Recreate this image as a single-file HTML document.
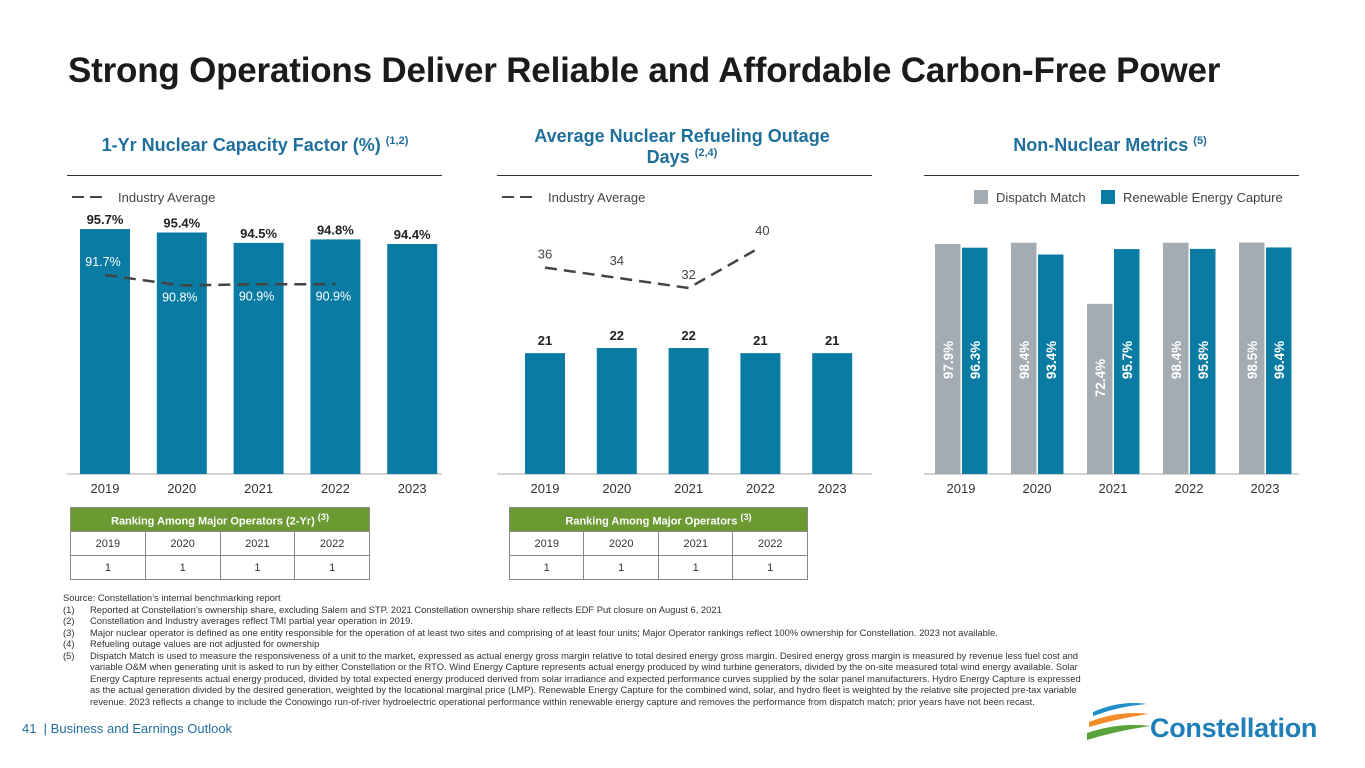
<!DOCTYPE html>
<html><head><meta charset="utf-8"><style>
body{margin:0;width:1365px;height:768px;background:#fff;font-family:"Liberation Sans",sans-serif;position:relative;overflow:hidden;color:#222}
.abs{position:absolute}
h1{position:absolute;left:68px;top:51px;margin:0;font-size:35px;font-weight:bold;color:#1b1b1b;letter-spacing:-0.2px;white-space:nowrap}
.sh{position:absolute;color:#1f6f9d;font-weight:bold;font-size:18px;text-align:center;line-height:21px}
.sh sup{font-size:11px;line-height:0}
.rule{position:absolute;height:1px;background:#333;top:175px}
table{position:absolute;border-collapse:collapse;font-size:11px;text-align:center;color:#333}
td,th{border:1px solid #888;height:23px;padding:0}
th{background:#6b9a32;color:#fff;font-weight:bold}
.fn{position:absolute;left:63px;top:592px;font-size:9.4px;line-height:11.5px;color:#333;width:1030px}
.fn .r{display:flex}
.fn .r span:first-child{width:27px;flex:none}
</style></head><body>
<h1>Strong Operations Deliver Reliable and Affordable Carbon-Free Power</h1>
<div class="sh" style="left:60px;top:135px;width:390px;white-space:nowrap">1-Yr Nuclear Capacity Factor (%) <sup>(1,2)</sup></div>
<div class="sh" style="left:517px;top:126px;width:330px">Average Nuclear Refueling Outage Days <sup>(2,4)</sup></div>
<div class="sh" style="left:960px;top:135px;width:300px;white-space:nowrap">Non-Nuclear Metrics <sup>(5)</sup></div>
<div class="rule" style="left:67px;width:375px"></div>
<div class="rule" style="left:497px;width:375px"></div>
<div class="rule" style="left:924px;width:375px"></div>
<svg class="abs" style="left:0;top:0" width="1365" height="590" id="svg"></svg>
<table style="left:70px;top:507px;width:300px">
<tr><th colspan="4">Ranking Among Major Operators (2-Yr) <sup>(3)</sup></th></tr>
<tr><td>2019</td><td>2020</td><td>2021</td><td>2022</td></tr>
<tr><td>1</td><td>1</td><td>1</td><td>1</td></tr></table>
<table style="left:509px;top:507px;width:299px">
<tr><th colspan="4">Ranking Among Major Operators <sup>(3)</sup></th></tr>
<tr><td>2019</td><td>2020</td><td>2021</td><td>2022</td></tr>
<tr><td>1</td><td>1</td><td>1</td><td>1</td></tr></table>
<div class="fn">
<div>Source: Constellation’s internal benchmarking report</div>
<div class="r"><span>(1)</span><span>Reported at Constellation’s ownership share, excluding Salem and STP. 2021 Constellation ownership share reflects EDF Put closure on August 6, 2021</span></div>
<div class="r"><span>(2)</span><span>Constellation and Industry averages reflect TMI partial year operation in 2019.</span></div>
<div class="r"><span>(3)</span><span>Major nuclear operator is defined as one entity responsible for the operation of at least two sites and comprising of at least four units; Major Operator rankings reflect 100% ownership for Constellation. 2023 not available.</span></div>
<div class="r"><span>(4)</span><span>Refueling outage values are not adjusted for ownership</span></div>
<div class="r"><span>(5)</span><span>Dispatch Match is used to measure the responsiveness of a unit to the market, expressed as actual energy gross margin relative to total desired energy gross margin. Desired energy gross margin is measured by revenue less fuel cost and variable O&amp;M when generating unit is asked to run by either Constellation or the RTO. Wind Energy Capture represents actual energy produced by wind turbine generators, divided by the on-site measured total wind energy available. Solar Energy Capture represents actual energy produced, divided by total expected energy produced derived from solar irradiance and expected performance curves supplied by the solar panel manufacturers. Hydro Energy Capture is expressed as the actual generation divided by the desired generation, weighted by the locational marginal price (LMP). Renewable Energy Capture for the combined wind, solar, and hydro fleet is weighted by the relative site projected pre-tax variable revenue. 2023 reflects a change to include the Conowingo run-of-river hydroelectric operational performance within renewable energy capture and removes the performance from dispatch match; prior years have not been recast.</span></div>
</div>
<div class="abs" style="left:22px;top:721px;font-size:13px;color:#1f6f9d">41 &nbsp;| Business and Earnings Outlook</div>
<svg class="abs" style="left:1085px;top:700px" width="66" height="44">
<path d="M8 12 Q35 0 62 4 Q35 6 8 16Z" fill="#1f8fc9"/><path d="M4 22 Q35 10 64 14 Q35 18 4 27Z" fill="#f28c28"/><path d="M2 33 Q35 22 66 26 Q35 30 2 40Z" fill="#5aa23c"/></svg>
<div class="abs" style="left:1150px;top:713px;font-size:27px;font-weight:bold;color:#1f7fb8;letter-spacing:-0.3px">Constellation</div>
<script>
const years=["2019","2020","2021","2022","2023"];
const cfValues=[95.7,95.4,94.5,94.8,94.4];
const cfLabels=["95.7%","95.4%","94.5%","94.8%","94.4%"];
const cfIndustry=[91.7,90.8,90.9,90.9];
const outValues=[21,22,22,21,21];
const outIndustry=[36,34,32,40];
const dispatchVals=[97.9,98.4,72.4,98.4,98.5];
const renewVals=[96.3,93.4,95.7,95.8,96.4];
const svg=document.getElementById('svg');const NS='http://www.w3.org/2000/svg';
function mk(t,a,txt){const e=document.createElementNS(NS,t);for(const k in a)e.setAttribute(k,a[k]);if(txt!==undefined)e.textContent=txt;svg.appendChild(e);return e;}
const base=474;
// chart1
const cfX=i=>105+i*76.8, cfY=v=>base-(v-74.4)*11.5;
mk('line',{x1:67,x2:442,y1:base,y2:base,stroke:'#aaa'});
years.forEach((y,i)=>{
 let r=mk('rect',{x:cfX(i)-25,y:cfY(cfValues[i]),width:50,height:base-cfY(cfValues[i]),fill:'#0a7ca3'});
 
 mk('text',{x:cfX(i),y:cfY(cfValues[i])-5,'text-anchor':'middle','font-size':13,'font-weight':'bold',fill:'#222'},cfLabels[i]);
 mk('text',{x:cfX(i),y:493,'text-anchor':'middle','font-size':13,fill:'#333'},y);
});
let p=mk('polyline',{points:cfIndustry.map((v,i)=>cfX(i)+','+cfY(v)).join(' '),fill:'none',stroke:'#444','stroke-width':2.5,'stroke-dasharray':'12 7'});

cfIndustry.forEach((v,i)=>mk('text',{x:cfX(i)-2,y:i==0?cfY(v)-9:cfY(v)+16,'text-anchor':'middle','font-size':12.5,fill:'#fff'},v.toFixed(1)+'%'));
mk('line',{x1:72,x2:104,y1:197,y2:197,stroke:'#444','stroke-width':2,'stroke-dasharray':'12 6'});
mk('text',{x:118,y:202,'font-size':13,fill:'#444'},'Industry Average');
// chart2
const oX=i=>545+i*71.8, oY=v=>base-(v+2.7)*5.1, oLY=v=>288-(v-32)*5.1;
mk('line',{x1:497,x2:872,y1:base,y2:base,stroke:'#aaa'});
years.forEach((y,i)=>{
 let r=mk('rect',{x:oX(i)-20,y:oY(outValues[i]),width:40,height:base-oY(outValues[i]),fill:'#0a7ca3'});
 
 mk('text',{x:oX(i),y:oY(outValues[i])-8,'text-anchor':'middle','font-size':13,'font-weight':'bold',fill:'#222'},outValues[i]);
 mk('text',{x:oX(i),y:493,'text-anchor':'middle','font-size':13,fill:'#333'},y);
});
p=mk('polyline',{points:outIndustry.map((v,i)=>oX(i)+','+oLY(v)).join(' '),fill:'none',stroke:'#444','stroke-width':2.5,'stroke-dasharray':'12 7'});

outIndustry.forEach((v,i)=>mk('text',{x:oX(i)+(i==3?2:0),y:oLY(v)-(i==3?12:9)-(i==1?4:0),'text-anchor':'middle','font-size':13,fill:'#444'},v));
mk('line',{x1:502,x2:534,y1:197,y2:197,stroke:'#444','stroke-width':2,'stroke-dasharray':'12 6'});
mk('text',{x:548,y:202,'font-size':13,fill:'#444'},'Industry Average');
// chart3
const nX=i=>961+i*76, nY=v=>base-v*2.35;
mk('line',{x1:924,x2:1299,y1:base,y2:base,stroke:'#aaa'});
years.forEach((y,i)=>{
 let r=mk('rect',{x:nX(i)-26,y:nY(dispatchVals[i]),width:25.5,height:base-nY(dispatchVals[i]),fill:'#a3abb3'});
 
 r=mk('rect',{x:nX(i)+1,y:nY(renewVals[i]),width:25.5,height:base-nY(renewVals[i]),fill:'#0a7ca3'});
 
 [[nX(i)-13,dispatchVals[i]],[nX(i)+14,renewVals[i]]].forEach(([x,v])=>mk('text',{x:0,y:0,transform:`translate(${x+5},${v<80?378:360}) rotate(-90)`,'text-anchor':'middle','font-size':13.5,'font-weight':'bold',fill:'#fff'},v.toFixed(1)+'%'));
 mk('text',{x:nX(i),y:493,'text-anchor':'middle','font-size':13,fill:'#333'},y);
});
mk('rect',{x:974,y:190,width:14,height:14,fill:'#a3abb3'});
mk('text',{x:996,y:202,'font-size':13,fill:'#444'},'Dispatch Match');
mk('rect',{x:1101,y:190,width:14,height:14,fill:'#0a7ca3'});
mk('text',{x:1123,y:202,'font-size':13,fill:'#444'},'Renewable Energy Capture');
</script>
</body></html>
